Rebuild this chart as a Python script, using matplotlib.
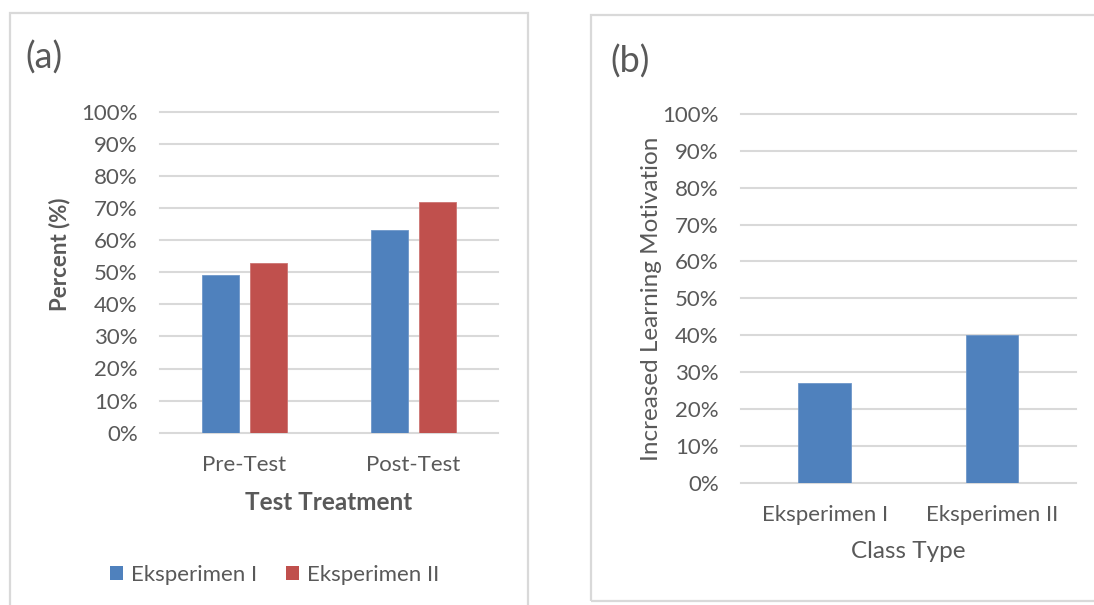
import matplotlib
matplotlib.use("Agg")
import matplotlib.pyplot as plt
from matplotlib.patches import Rectangle, Patch
from matplotlib.ticker import PercentFormatter

# data
tests = ["Pre-Test", "Post-Test"]
exp1 = [0.49, 0.63]
exp2 = [0.53, 0.72]
classes = ["Eksperimen I", "Eksperimen II"]
motivation = [0.27, 0.40]
series_names = ["Eksperimen I", "Eksperimen II"]
yticks = [i / 10 for i in range(11)]

BLUE, RED = "#4F81BD", "#C0504D"
TXT, GRID = "#595959", "#D9D9D9"
W, H = 1094, 605
TICK_FS, LABEL_FS = 16, 17.5

plt.rcParams["font.family"] = ["Lato", "DejaVu Sans"]
fig = plt.figure(figsize=(W / 100, H / 100), dpi=100)


def fx(px):
    return px / W


def fy(py):
    return 1 - py / H


# panel frames
for x0, y0, x1, y1 in [(9.5, 12.5, 527.7, 615), (591, 15, 1097, 601)]:
    fig.add_artist(Rectangle((fx(x0), fy(y1)), fx(x1 - x0), (y1 - y0) / H,
                             transform=fig.transFigure, fill=False, ec=GRID, lw=1.6))


def style(ax):
    ax.set_ylim(0, 1)
    ax.set_yticks(yticks)
    ax.yaxis.set_major_formatter(PercentFormatter(1.0, decimals=0))
    ax.grid(axis="y", color=GRID, lw=1.5)
    ax.set_axisbelow(True)
    for s in ax.spines.values():
        s.set_visible(False)
    ax.tick_params(length=0, labelsize=TICK_FS, labelcolor=TXT)
    ax.tick_params(axis="y", pad=16)
    ax.tick_params(axis="x", pad=16)
    for gl in ax.get_ygridlines():
        gl.set_clip_on(False)


# (a)
axa = fig.add_axes([fx(160), fy(432.7), fx(338), 321 / H])
bw, off = 0.222, 0.143
xa = list(range(len(tests)))
axa.bar([x - off for x in xa], exp1, bw, color=BLUE, ec="#6f97c9", lw=0.6)
axa.bar([x + off for x in xa], exp2, bw, color=RED, ec="#cc7472", lw=0.6)
axa.set_xlim(-0.5, len(tests) - 0.5)
axa.set_xticks(xa, tests)
style(axa)
fig.text(fx(25), fy(58), "(a)", fontsize=26, color=TXT, va="center", ha="left")
fig.text(fx(60), fy(254), "Percent (%)", fontsize=16, fontweight="bold", color=TXT,
         rotation=90, ha="center", va="center")
fig.text(fx(329), fy(503), "Test Treatment", fontsize=LABEL_FS, fontweight="bold", color=TXT,
         ha="center", va="center")
handles = [Patch(fc=BLUE), Patch(fc=RED)]
fig.legend(handles, series_names, loc="center", bbox_to_anchor=(fx(274.5), fy(575)), ncol=2,
           frameon=False, fontsize=TICK_FS, labelcolor=TXT, handlelength=0.6, handleheight=0.6,
           handletextpad=0.35, columnspacing=1.3)

# (b)
axb = fig.add_axes([fx(741), fy(482.7), fx(334.7), 368.7 / H])
xb = list(range(len(classes)))
axb.bar(xb, motivation, 0.313, color=BLUE, ec="#6f97c9", lw=0.6)
axb.set_xlim(-0.5, len(classes) - 0.5)
axb.set_xticks(xb, classes)
style(axb)
fig.text(fx(610), fy(62), "(b)", fontsize=26, color=TXT, va="center", ha="left")
fig.text(fx(651), fy(298.4), "Increased Learning Motivation", fontsize=LABEL_FS, color=TXT,
         rotation=90, ha="center", va="center")
fig.text(fx(908), fy(552), "Class Type", fontsize=LABEL_FS, color=TXT, ha="center", va="center")

fig.savefig("out.png", dpi=100, facecolor="white")
